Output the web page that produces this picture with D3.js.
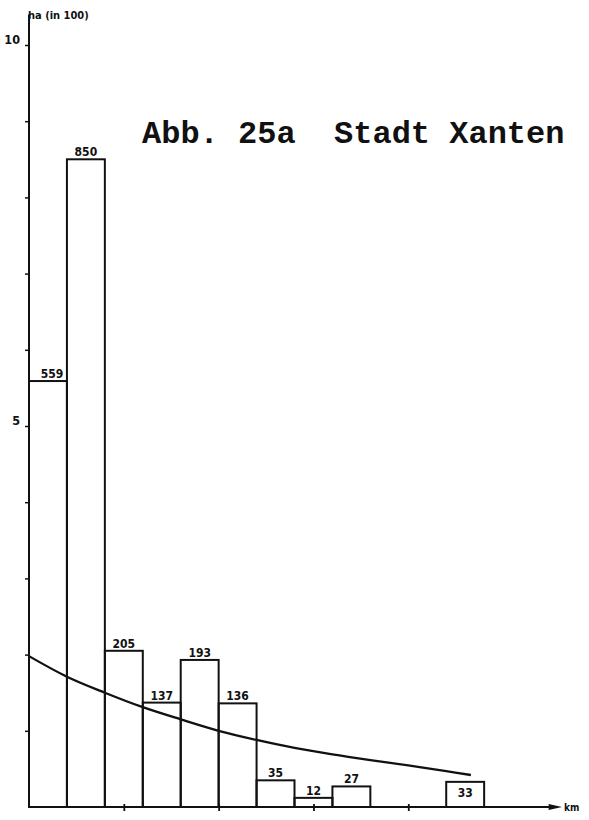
<!DOCTYPE html>
<html>
<head>
<meta charset="utf-8">
<script src="https://cdn.jsdelivr.net/npm/d3@7"></script>
<style>
  html, body { margin: 0; padding: 0; background: #fff; }
  svg { display: block; }
</style>
</head>
<body>
<script>
// Distance classes (km) and farmland area per class (ha)
const classStart = [0, 2, 4, 6, 8, 10, 12, 14, 16, 22];
const classWidth = 2;
const areaHa = [559, 850, 205, 137, 193, 136, 35, 12, 27, 33];

// Fitted trend curve: [km, area in 100 ha]
const trendKm = [0, 2, 4, 6, 8, 10, 12, 14, 16, 18, 20, 22, 23.3];
const trendVal = [1.98, 1.71, 1.50, 1.31, 1.15, 1.00, 0.88, 0.775, 0.69, 0.615, 0.545, 0.47, 0.42];

// Axis ticks
const yTicks = [1, 2, 3, 4, 5, 6, 7, 8, 9, 10];
const yTickLabels = ["", "", "", "", "5", "", "", "", "", "10"];
const xTicks = [5, 10, 15, 20];

const W = 589, H = 820;
const svg = d3.select("body").append("svg").attr("width", W).attr("height", H);

const x = d3.scaleLinear().domain([0, 28]).range([29, 560]);
const y = d3.scaleLinear().domain([0, 10]).range([807, 45]);

const ink = "#111";
const labelFont = "'DejaVu Sans Condensed', 'DejaVu Sans', sans-serif";

// Bars
const bars = classStart.map((s, i) => ({ s, e: s + classWidth, v: areaHa[i] / 100, label: areaHa[i] }));

svg.append("g").selectAll("rect").data(bars).join("rect")
  .attr("x", d => x(d.s))
  .attr("y", d => y(d.v))
  .attr("width", d => x(d.e) - x(d.s))
  .attr("height", d => y(0) - y(d.v))
  .attr("fill", "none")
  .attr("stroke", ink)
  .attr("stroke-width", 2);

// Bar value labels (the isolated far bar carries its label inside)
svg.append("g").selectAll("text").data(bars).join("text")
  .attr("x", d => (x(d.s) + x(d.e)) / 2 + (d.s === 0 ? 4 : 0))
  .attr("y", d => d.s >= 20 ? y(d.v) + 15 : y(d.v) - 3)
  .attr("text-anchor", "middle")
  .attr("font-family", labelFont)
  .attr("font-weight", "bold")
  .attr("font-size", 12)
  .attr("fill", ink)
  .text(d => d.label);

// Trend curve
const line = d3.line()
  .x(d => x(d[0]))
  .y(d => y(d[1]))
  .curve(d3.curveCatmullRom.alpha(0.5));
svg.append("path")
  .datum(trendKm.map((k, i) => [k, trendVal[i]]))
  .attr("d", line)
  .attr("fill", "none")
  .attr("stroke", ink)
  .attr("stroke-width", 2.3);

// Y axis
svg.append("line")
  .attr("x1", x(0)).attr("x2", x(0))
  .attr("y1", y(0)).attr("y2", y(10.4))
  .attr("stroke", ink).attr("stroke-width", 2);

const yAxis = d3.axisLeft(y)
  .tickValues(yTicks)
  .tickSize(3)
  .tickPadding(5)
  .tickFormat((d, i) => yTickLabels[i]);
const gy = svg.append("g").attr("transform", `translate(${x(0) - 1},0)`).call(yAxis);
gy.select(".domain").remove();
gy.selectAll(".tick line").attr("stroke", ink).attr("stroke-width", 1.5);
gy.selectAll(".tick text")
  .attr("font-family", labelFont)
  .attr("font-weight", "bold")
  .attr("font-size", 12.5)
  .attr("fill", ink)
  .attr("dy", "-0.1em");

svg.append("text")
  .attr("x", x(0) - 1)
  .attr("y", 19)
  .attr("font-family", labelFont)
  .attr("font-weight", "bold")
  .attr("font-size", 11)
  .attr("fill", ink)
  .text("ha (in 100)");

// X axis with arrow
svg.append("line")
  .attr("x1", x(0)).attr("x2", x(27.6))
  .attr("y1", y(0)).attr("y2", y(0))
  .attr("stroke", ink).attr("stroke-width", 2);
svg.append("path")
  .attr("d", `M${x(28) + 2},${y(0)} L${x(27.4)},${y(0) - 3} L${x(27.4)},${y(0) + 3} Z`)
  .attr("fill", ink);

const xAxis = d3.axisBottom(x).tickValues(xTicks).tickSize(5).tickFormat("");
const gx = svg.append("g").attr("transform", `translate(0,${y(0) - 1})`).call(xAxis);
gx.select(".domain").remove();
gx.selectAll(".tick line").attr("stroke", ink).attr("stroke-width", 1.8).attr("y1", -2);

svg.append("text")
  .attr("x", x(28) + 4)
  .attr("y", y(0) + 4)
  .attr("font-family", labelFont)
  .attr("font-weight", "bold")
  .attr("font-size", 10)
  .attr("fill", ink)
  .text("km");

// Title
svg.append("text")
  .attr("x", 142)
  .attr("y", 143)
  .attr("font-family", "'Liberation Mono', 'Courier New', monospace")
  .attr("font-weight", "bold")
  .attr("font-size", 32)
  .attr("fill", ink)
  .attr("xml:space", "preserve")
  .style("white-space", "pre")
  .text("Abb. 25a  Stadt Xanten");
</script>
</body>
</html>
